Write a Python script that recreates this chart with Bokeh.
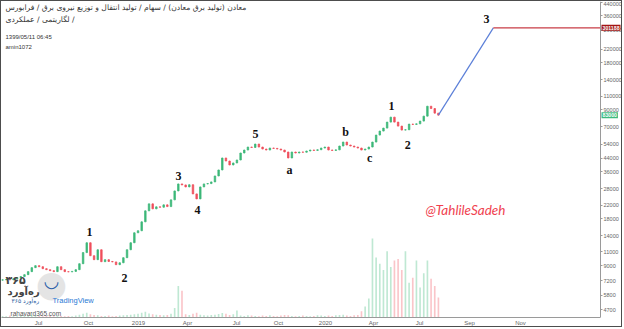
from bokeh.plotting import figure
from bokeh.models import (Range1d, FixedTicker, NumeralTickFormatter, CustomJSTickFormatter,
                          Label, ColumnDataSource, LinearScale, LogAxis)
from bokeh.embed import file_html
from bokeh.resources import INLINE
from bokeh.core.properties import value

# ---------------- data (weekly candles) ----------------
first_open = 7250
closes = [
    7300, 7320, 7290, 7400, 7530, 7650, 7870, 8230, 8730, 8990,
    8850, 8600, 8470, 8350, 8230, 8850, 8470, 8230, 8200, 8260,
    8470, 9250, 10900, 12610, 10410, 9820, 11370, 9530, 9820, 9560,
    9500, 9120, 9380, 10110, 11370, 12610, 14610, 15050, 17170, 20200,
    22390, 20800, 21420, 21300, 22060, 21500, 23750, 27100, 30050, 29610,
    28750, 29700, 25940, 24100, 28750, 30050, 30200, 30960, 33800, 36930,
    44080, 42160, 39760, 40950, 42800, 47450, 49590, 51820, 51500, 54160,
    51820, 50320, 49590, 51060, 50800, 50320, 49590, 48150, 44080, 48150,
    47450, 48150, 48000, 48860, 49590, 49300, 49800, 51060, 51820, 49590,
    49300, 49700, 52600, 55780, 53380, 52600, 51820, 51060, 49590, 50320,
    51820, 55780, 61840, 65600, 68550, 74870, 80600, 74870, 70600, 66560,
    66900, 72700, 72400, 73000, 76000, 81800, 94700, 91500, 85500, 83000]

volumes = [
    0.5, 0.4, 0.6, 0.5, 0.4, 0.7, 0.5, 0.6, 0.8, 0.6,
    0.5, 0.4, 0.5, 0.6, 0.4, 0.7, 0.5, 0.4, 0.5, 0.4,
    0.6, 0.9, 1.2, 1.5, 1.0, 0.8, 0.7, 0.5, 0.5, 0.6,
    0.4, 0.5, 0.6, 0.7, 0.8, 0.9, 1.0, 1.2, 1.5, 1.8,
    1.3, 1.0, 0.9, 0.8, 0.7, 0.8, 1.2, 3.0, 10.0, 8.5,
    1.0, 0.8, 1.2, 1.5, 0.9, 0.7, 0.6, 0.8, 0.9, 1.1,
    1.4, 1.2, 0.8, 1.0, 2.2, 0.6, 0.5, 0.7, 0.6, 0.5,
    0.4, 0.6, 0.5, 0.7, 0.5, 0.4, 0.6, 0.8, 0.7, 0.5,
    0.4, 0.5, 0.6, 0.5, 0.4, 0.5, 0.7, 0.6, 0.5, 0.6,
    0.5, 0.7, 0.8, 0.9, 0.6, 0.5, 0.7, 0.8, 2.0, 3.5,
    6.0, 25.0, 19.0, 17.0, 15.0, 21.0, 16.0, 18.0, 18.5, 15.0,
    21.0, 11.0, 12.6, 18.0, 9.5, 14.0, 18.0, 12.3, 10.0, 6.3]

last_price = 83000
target_price = 301188
target_idx = 134.0

wave_labels = ["1", "2", "3", "4", "5", "a", "b", "c", "1", "2", "3"]
wave_idx = [23.75, 33.3, 48.05, 53.2, 69.07, 78.35, 93.64, 100.2, 106.2, 110.6, 132.1]
wave_val = [14830, 7530, 33810, 20500, 62770, 36930, 64630, 44090, 94760, 53380, 341200]

x_tick_pos = [9.83, 23.48, 37.13, 50.5, 63.88, 75.35, 88.18, 101.28, 113.84, 127.49, 141.41]
x_tick_labels = ["Jul", "Oct", "2019", "Apr", "Jul", "Oct", "2020", "Apr", "Jul", "Sep", "Nov"]
y_ticks = [4700, 5800, 7200, 9000, 11000, 14000, 18000, 22000, 28000, 36000, 44000,
           54000, 70000, 90000, 110000, 140000, 180000, 220000, 290000, 360000, 440000]

header_1 = "معادن (تولید برق معادن) / سهام / تولید انتقال و توزیع نیروی برق / فرابورس"
header_2 = "لگاریتمی / عملکردی /"
stamp = "1399/05/11 06:45"
author = "amin1072"
watermark = "@TahlileSadeh"

# ---------------- derived ----------------
n = len(closes)
idx = list(range(n))
opens = [first_open] + closes[:-1]
up = [c >= o for o, c in zip(opens, closes)]
GREEN, RED = "#3cb878", "#ef4f5c"
src = ColumnDataSource(dict(
    x=idx,
    top=[max(o, c) for o, c in zip(opens, closes)],
    bottom=[min(o, c) for o, c in zip(opens, closes)],
    color=[GREEN if u else RED for u in up],
    vol=volumes,
))

# x extent: frame covers the full width; the price scale sits at X_AX
X0, X_AX, X1 = -0.273, 163.25, 169.53
p = figure(width=622, height=327, x_range=Range1d(X0, X1),
           y_range=Range1d(4180, 444600), y_axis_type="log", y_axis_location=None,
           output_backend="svg", toolbar_location=None,
           min_border_left=0, min_border_top=0, min_border_right=0, min_border_bottom=10)
p.styles = {"border": "1px solid #4d4d4d"}
p.background_fill_color = "white"
p.border_fill_color = "white"
p.outline_line_color = None
p.grid.visible = False

p.extra_y_ranges = {"vol": Range1d(0, 100)}
p.extra_y_scales = {"vol": LinearScale()}

# volume
p.vbar(x="x", top="vol", bottom=0, width=0.45, source=src, y_range_name="vol",
       fill_color="color", line_color=None, fill_alpha=0.33)

# candles
p.vbar(x="x", top="top", bottom="bottom", width=0.4, source=src,
       fill_color="color", line_color="color", line_width=0.8)

# projection
p.line([idx[-1], target_idx], [last_price, target_price], line_color="#5b7fd8", line_width=1.2)
p.line([target_idx, X_AX], [target_price, target_price], line_color="#c83c46", line_width=1.4)

# wave labels
p.text(x=wave_idx, y=wave_val, text=wave_labels, text_font=value("Liberation Serif"),
       text_font_style="bold", text_font_size="12px", text_color="#111111",
       text_align="center", text_baseline="middle")

# price axis (pinned at X_AX, on the right)
ya = LogAxis(fixed_location=X_AX, ticker=FixedTicker(ticks=y_ticks),
             formatter=NumeralTickFormatter(format="0"))
ya.major_label_text_font_size = "5.5px"
ya.major_label_text_color = "#666666"
ya.major_label_text_font = "Liberation Sans"
ya.major_tick_out = 2
ya.major_tick_in = 0
ya.minor_tick_out = 0
ya.minor_tick_in = 0
ya.major_label_standoff = 1
ya.axis_line_color = "#9a9a9a"
ya.major_tick_line_color = "#9a9a9a"
p.add_layout(ya, "right")

xa = p.xaxis[0]
xa.ticker = FixedTicker(ticks=x_tick_pos)
xa.formatter = CustomJSTickFormatter(args=dict(pos=x_tick_pos, lab=x_tick_labels), code="""
let best = 0, d = 1e9;
for (let k = 0; k < pos.length; k++) { const e = Math.abs(pos[k] - tick); if (e < d) { d = e; best = k; } }
return lab[best];
""")
xa.bounds = (X0, X_AX)
xa.major_label_text_font_size = "6px"
xa.major_label_text_color = "#666666"
xa.major_label_text_font = "Liberation Sans"
xa.major_tick_out = 0
xa.major_tick_in = 0
xa.minor_tick_out = 0
xa.minor_tick_in = 0
xa.major_label_standoff = 2
xa.axis_line_color = "#9a9a9a"

# price tags on the price axis
for price, color in [(target_price, "#a31515"), (last_price, "#3dba7e")]:
    p.add_layout(Label(x=X_AX, y=price, x_offset=1, text=str(price),
                       text_font_size="5.2px", text_color="white", text_font_style="bold",
                       text_font="Liberation Sans", background_fill_color=color,
                       text_baseline="middle", text_align="left", padding=(1, 1)))

# header texts
def slabel(x, y, text, size, color="#333333", font="DejaVu Sans", style="normal", align="left"):
    p.add_layout(Label(x=x, y=y, x_units="screen", y_units="screen", text=text,
                       text_font_size=size, text_color=color, text_font=font,
                       text_font_style=style, text_align=align, text_baseline="middle"))

slabel(4, 310, header_1, "7.6px")
slabel(4, 298, header_2, "7.6px")
slabel(4, 281, stamp, "6px", font="Liberation Sans")
slabel(4, 271, author, "6px", font="Liberation Sans")

# watermark
slabel(464, 108, watermark, "13.5px", color="#f0414f", font="Lato", style="italic", align="center")

# bottom-left logo
slabel(50, 34, "●", "36px", color="#e4e4e4", align="center")
slabel(50, 37, "◡", "18px", color="#2a5fa8", align="center", style="bold")
slabel(4, 37, "۳۶۵", "11px", color="#444444", style="bold")
slabel(6, 26, "ره‌آورد", "10px", color="#444444", style="bold")
slabel(10, 17, "ره‌آورد ۳۶۵", "6px", color="#1e5aa0")
slabel(51, 17, "TradingView", "7.5px", color="#2a7ad5", font="Liberation Sans")
slabel(9, 4, "rahavard365.com", "6.5px", color="#555555", font="Liberation Sans")

open("out.html", "w").write(file_html(p, INLINE))
